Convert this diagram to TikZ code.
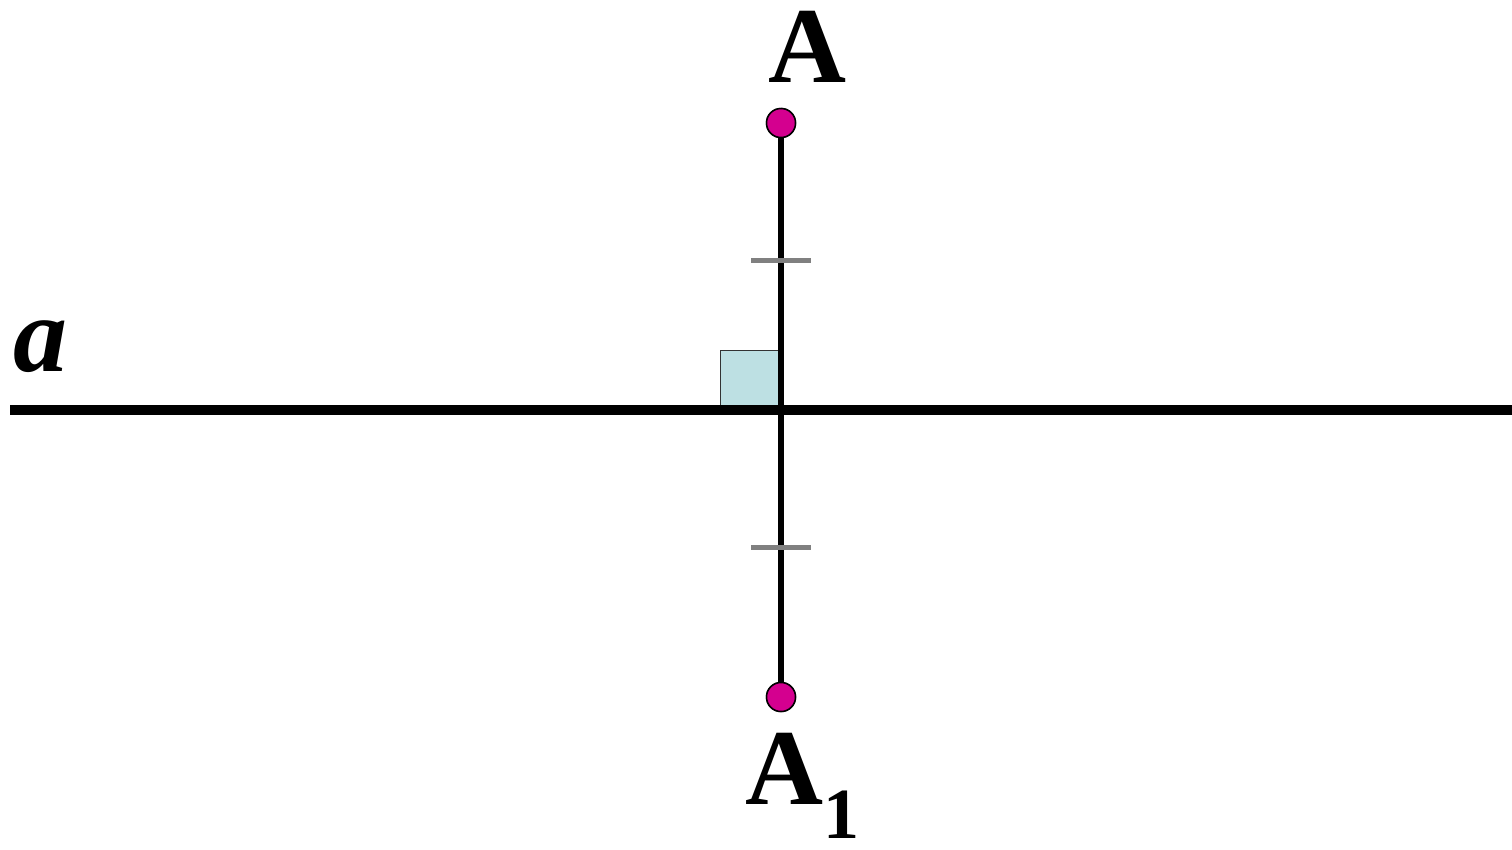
\documentclass[tikz,border=0pt]{standalone}
\usepackage{fontspec}
\setmainfont{Liberation Serif}
\definecolor{dotmag}{HTML}{D4008F}
\definecolor{sqblue}{HTML}{BDE0E3}
\definecolor{tickgray}{HTML}{808080}
\begin{document}
\begin{tikzpicture}[x=1pt,y=-1pt,
  dotstyle/.style={circle,draw=black,line width=1.5pt,fill=dotmag,minimum size=29pt,inner sep=0pt},
  biglabel/.style={font=\fontsize{108}{120}\selectfont\bfseries,inner sep=0pt},
  mainline/.style={line width=10.5pt},
  segline/.style={line width=6.5pt},
  tickline/.style={tickgray,line width=5pt},
  rightsq/.style={draw=black!80,line width=1pt,fill=sqblue}]
\useasboundingbox (0,0) rectangle (1512,849);
% right-angle square
\draw[rightsq] (720,350) rectangle (780,410);
% line a
\coordinate (L) at (10,410);
\coordinate (R) at (1512,410);
\draw[mainline] (L) -- (R);
% points
\node[dotstyle] (P) at (781,123) {};
\node[dotstyle] (P1) at (781,697) {};
\draw[segline] (P) -- (P1);
\node[dotstyle] at (781,123) {};
\node[dotstyle] at (781,697) {};
% ticks
\draw[tickline] (751,260) -- (811,260);
\draw[tickline] (751,547) -- (811,547);
% labels
\node[biglabel,anchor=base] (lA) at (807,82) {A};
\node[biglabel,anchor=base west] (lA1) at (745,804) {A\raisebox{-34pt}[\height][0pt]{\fontsize{72}{72}\selectfont 1}};
\node[biglabel,anchor=base west,font=\fontsize{108}{120}\selectfont\bfseries\itshape] (la) at (13,371) {a};
\end{tikzpicture}
\end{document}
